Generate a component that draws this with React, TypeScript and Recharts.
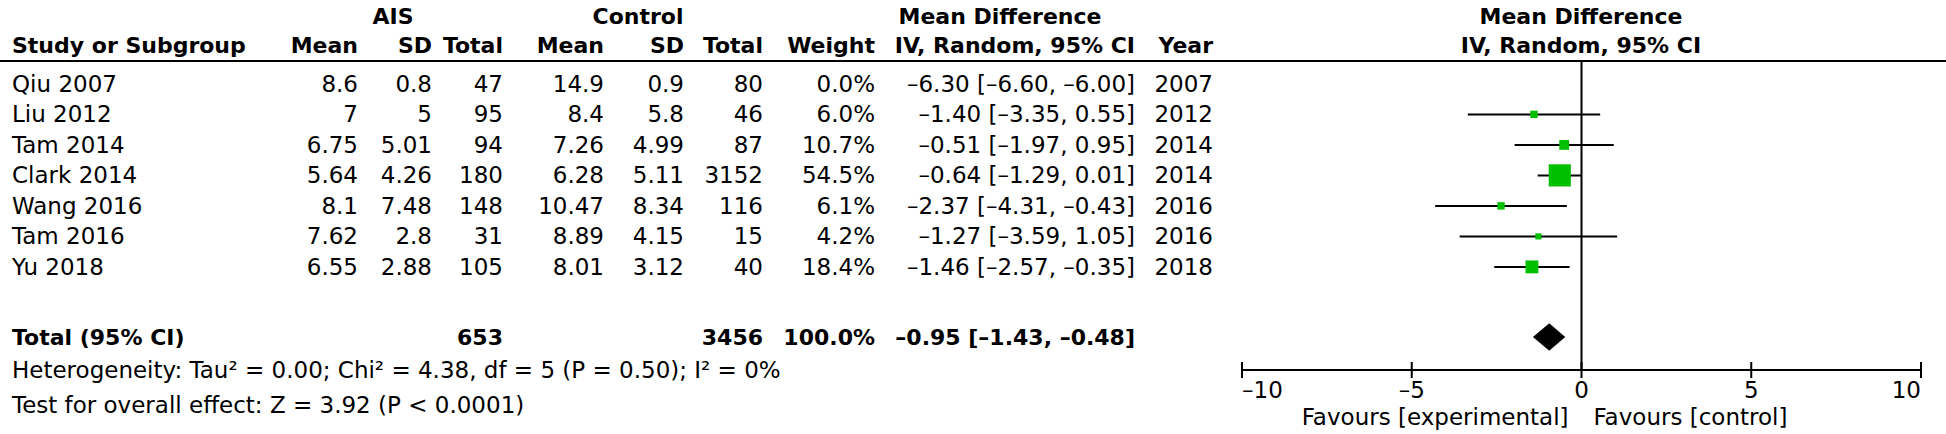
import React from 'react';
import {
  ComposedChart,
  Scatter,
  ErrorBar,
  Area,
  XAxis,
  YAxis,
  ReferenceLine,
  Customized,
} from 'recharts';

// table values
const studies = ['Qiu 2007', 'Liu 2012', 'Tam 2014', 'Clark 2014', 'Wang 2016', 'Tam 2016', 'Yu 2018'];
const aisMean = [8.6, 7, 6.75, 5.64, 8.1, 7.62, 6.55];
const aisSd = [0.8, 5, 5.01, 4.26, 7.48, 2.8, 2.88];
const aisTotal = [47, 95, 94, 180, 148, 31, 105];
const ctrlMean = [14.9, 8.4, 7.26, 6.28, 10.47, 8.89, 8.01];
const ctrlSd = [0.9, 5.8, 4.99, 5.11, 8.34, 4.15, 3.12];
const ctrlTotal = [80, 46, 87, 3152, 116, 15, 40];
const weights = [0.0, 6.0, 10.7, 54.5, 6.1, 4.2, 18.4];
const md = [-6.3, -1.4, -0.51, -0.64, -2.37, -1.27, -1.46];
const ciLow = [-6.6, -3.35, -1.97, -1.29, -4.31, -3.59, -2.57];
const ciHigh = [-6.0, 0.55, 0.95, 0.01, -0.43, 1.05, -0.35];
const years = [2007, 2012, 2014, 2014, 2016, 2016, 2018];

const totalAis = 653;
const totalCtrl = 3456;
const totalWeight = 100.0;
const overall = { md: -0.95, lo: -1.43, hi: -0.48 };

const xTicks = [-10, -5, 0, 5, 10];

const FONT = '"DejaVu Sans", sans-serif';
const REG = 23;
const BOLD = 22;
const GREEN = '#00bf00';

const rowPos = studies.map((_, i) => i + 1);
const totalPos = 9.3;
const diamondHalf = 0.45;

const fmt = (v: number, d: number) => (v < 0 ? '\u2013' : '') + Math.abs(v).toFixed(d);
const ciText = (m: number, l: number, h: number) => `${fmt(m, 2)} [${fmt(l, 2)}, ${fmt(h, 2)}]`;

// studies with zero weight are not drawn
const points = studies
  .map((name, i) => ({
    name,
    x: md[i],
    y: rowPos[i],
    w: weights[i],
    err: [md[i] - ciLow[i], ciHigh[i] - md[i]],
  }))
  .filter((p) => p.w > 0);

const diamond = [
  { x: overall.lo, band: [totalPos, totalPos] },
  { x: overall.md, band: [totalPos - diamondHalf, totalPos + diamondHalf] },
  { x: overall.hi, band: [totalPos, totalPos] },
];

// column anchors (right-aligned)
const COLS = {
  name: 12,
  aisMean: 358,
  aisSd: 432,
  aisTotal: 503,
  ctrlMean: 604,
  ctrlSd: 684,
  ctrlTotal: 763,
  weight: 875,
  ci: 1135,
  year: 1213,
};

const T = ({ x, y, anchor = 'end', bold = false, children }: any) => (
  <text
    x={x}
    y={y}
    textAnchor={anchor}
    dominantBaseline="central"
    fontFamily={FONT}
    fontSize={bold ? BOLD : REG}
    fontWeight={bold ? 'bold' : 'normal'}
    fill="#000"
  >
    {children}
  </text>
);

const RowTick = (props: any) => {
  const { y, payload } = props;
  const v = payload.value;
  if (v === totalPos) {
    return (
      <g>
        <T x={COLS.name} y={y} anchor="start" bold>Total (95% CI)</T>
        <T x={COLS.aisTotal} y={y} bold>{totalAis}</T>
        <T x={COLS.ctrlTotal} y={y} bold>{totalCtrl}</T>
        <T x={COLS.weight} y={y} bold>{totalWeight.toFixed(1)}%</T>
        <T x={COLS.ci} y={y} bold>{ciText(overall.md, overall.lo, overall.hi)}</T>
      </g>
    );
  }
  const i = rowPos.indexOf(v);
  if (i < 0) return null;
  return (
    <g>
      <T x={COLS.name} y={y} anchor="start">{studies[i]}</T>
      <T x={COLS.aisMean} y={y}>{aisMean[i]}</T>
      <T x={COLS.aisSd} y={y}>{aisSd[i]}</T>
      <T x={COLS.aisTotal} y={y}>{aisTotal[i]}</T>
      <T x={COLS.ctrlMean} y={y}>{ctrlMean[i]}</T>
      <T x={COLS.ctrlSd} y={y}>{ctrlSd[i]}</T>
      <T x={COLS.ctrlTotal} y={y}>{ctrlTotal[i]}</T>
      <T x={COLS.weight} y={y}>{weights[i].toFixed(1)}%</T>
      <T x={COLS.ci} y={y}>{ciText(md[i], ciLow[i], ciHigh[i])}</T>
      <T x={COLS.year} y={y}>{years[i]}</T>
    </g>
  );
};

const AxisTick = (props: any) => {
  const { x, y, payload } = props;
  const v = payload.value;
  const anchor = v === xTicks[0] ? 'start' : v === xTicks[xTicks.length - 1] ? 'end' : 'middle';
  return (
    <g>
      <line x1={x} x2={x} y1={y - 8} y2={y + 8} stroke="#000" strokeWidth={2} />
      <T x={x} y={y + 20} anchor={anchor}>{fmt(v, 0)}</T>
      {v === 0 && (
        <>
          <T x={x - 13} y={y + 47} anchor="end">Favours [experimental]</T>
          <T x={x + 12} y={y + 47} anchor="start">Favours [control]</T>
        </>
      )}
    </g>
  );
};

const Headers = () => (
  <g>
    <T x={393} y={16} anchor="middle" bold>AIS</T>
    <T x={638} y={16} anchor="middle" bold>Control</T>
    <T x={1000} y={16} anchor="middle" bold>Mean Difference</T>
    <T x={1581} y={16} anchor="middle" bold>Mean Difference</T>
    <T x={COLS.name} y={45} anchor="start" bold>Study or Subgroup</T>
    <T x={COLS.aisMean} y={45} bold>Mean</T>
    <T x={COLS.aisSd} y={45} bold>SD</T>
    <T x={COLS.aisTotal} y={45} bold>Total</T>
    <T x={COLS.ctrlMean} y={45} bold>Mean</T>
    <T x={COLS.ctrlSd} y={45} bold>SD</T>
    <T x={COLS.ctrlTotal} y={45} bold>Total</T>
    <T x={COLS.weight} y={45} bold>Weight</T>
    <T x={COLS.ci} y={45} bold>IV, Random, 95% CI</T>
    <T x={COLS.year} y={45} bold>Year</T>
    <T x={1581} y={45} anchor="middle" bold>IV, Random, 95% CI</T>
    <line x1={0} x2={1946} y1={61} y2={61} stroke="#000" strokeWidth={2} />
    <T x={COLS.name} y={370} anchor="start">
      Heterogeneity: Tau² = 0.00; Chi² = 4.38, df = 5 (P = 0.50); I² = 0%
    </T>
    <T x={COLS.name} y={405} anchor="start">
      Test for overall effect: Z = 3.92 (P &lt; 0.0001)
    </T>
  </g>
);

const Box = (props: any) => {
  const { cx, cy, payload } = props;
  const s = Math.max(6, 3 * Math.sqrt(payload.w));
  return <rect x={cx - s / 2} y={cy - s / 2} width={s} height={s} fill={GREEN} />;
};

export default function App() {
  return (
    <div style={{ position: 'absolute', left: 0, top: 0, width: 1946, height: 434, background: '#fff' }}>
      <ComposedChart
        width={1946}
        height={434}
        data={diamond}
        margin={{ top: 61, right: 25, bottom: 0, left: 0 }}
      >
        <Customized component={<Headers />} />
        <XAxis
          type="number"
          dataKey="x"
          domain={[-10, 10]}
          ticks={xTicks}
          interval={0}
          allowDataOverflow
          height={64}
          tickSize={0}
          tickMargin={0}
          tickLine={false}
          axisLine={{ stroke: '#000', strokeWidth: 2 }}
          tick={<AxisTick />}
        />
        <YAxis
          type="number"
          dataKey="y"
          domain={[0.25, 10.38]}
          reversed
          allowDataOverflow
          width={1242}
          ticks={[...rowPos, totalPos]}
          interval={0}
          tickSize={0}
          tickMargin={0}
          tickLine={false}
          axisLine={false}
          tick={<RowTick />}
        />
        <ReferenceLine x={0} stroke="#000" strokeWidth={2} />
        <Area
          dataKey="band"
          type="linear"
          stroke="none"
          fill="#000"
          fillOpacity={1}
          isAnimationActive={false}
          activeDot={false}
          dot={false}
        />
        <Scatter data={points} dataKey="y" shape={<Box />} isAnimationActive={false}>
          <ErrorBar dataKey="err" direction="x" width={0} stroke="#000" strokeWidth={2} />
        </Scatter>
      </ComposedChart>
    </div>
  );
}
